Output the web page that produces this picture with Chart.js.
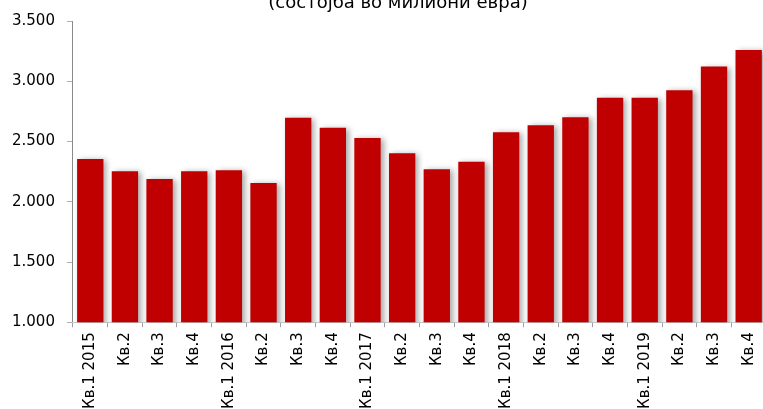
<!DOCTYPE html>
<html>
<head>
<meta charset="utf-8">
<script src="https://cdn.jsdelivr.net/npm/chart.js@4"></script>
<style>
  html, body { margin: 0; padding: 0; background: #fff; }
  #wrap { width: 763px; height: 409px; overflow: hidden; position: relative; }
</style>
</head>
<body>
<div id="wrap"><canvas id="myChart" width="772" height="414"></canvas></div>
<script>
const quarters = ['Кв.1 2015', 'Кв.2', 'Кв.3', 'Кв.4',
                  'Кв.1 2016', 'Кв.2', 'Кв.3', 'Кв.4',
                  'Кв.1 2017', 'Кв.2', 'Кв.3', 'Кв.4',
                  'Кв.1 2018', 'Кв.2', 'Кв.3', 'Кв.4',
                  'Кв.1 2019', 'Кв.2', 'Кв.3', 'Кв.4'];
const amounts = [2355, 2254, 2188, 2254, 2262, 2155, 2697, 2614, 2529, 2402,
                 2270, 2331, 2576, 2634, 2702, 2864, 2864, 2925, 3122, 3260];
const subtitle = '(состојба во милиони евра)';

// bars in the original have a soft grey drop shadow
const barShadow = {
    id: 'barShadow',
    beforeDatasetsDraw(chart) {
        const c = chart.ctx;
        c.save();
        c.shadowColor = 'rgba(0,0,0,0.35)';
        c.shadowBlur = 6;
        c.shadowOffsetX = 3;
        c.shadowOffsetY = 1;
    },
    afterDatasetsDraw(chart) {
        chart.ctx.restore();
    }
};

// title sits half off the top edge, so draw it by hand
const cutTitle = {
    id: 'cutTitle',
    afterDraw(chart) {
        const c = chart.ctx;
        c.save();
        c.font = '18px "DejaVu Sans"';
        c.fillStyle = '#000';
        c.textAlign = 'center';
        c.textBaseline = 'alphabetic';
        c.fillText(subtitle, 398, 8);
        c.restore();
    }
};

const ctx = document.getElementById('myChart').getContext('2d');
const myChart = new Chart(ctx, {
    type: 'bar',
    data: {
        labels: quarters,
        datasets: [{
            data: amounts,
            backgroundColor: '#C00000',
            barPercentage: 0.76,
            categoryPercentage: 1.0
        }]
    },
    options: {
        responsive: false,
        animation: false,
        layout: {
            padding: { top: 5, right: 6, left: 0, bottom: 0 }
        },
        plugins: {
            legend: { display: false },
            tooltip: { enabled: false },
            title: { display: false }
        },
        scales: {
            y: {
                min: 1000,
                max: 3500,
                ticks: {
                    stepSize: 500,
                    padding: 12,
                    color: '#000',
                    font: { family: 'DejaVu Sans', size: 15 },
                    callback: v => {
                        let s = String(v);
                        return s.slice(0, s.length - 3) + '.' + s.slice(-3);
                    }
                },
                grid: {
                    drawOnChartArea: false,
                    drawTicks: true,
                    tickLength: 6,
                    color: '#b0b0b0'
                },
                border: { display: true, color: '#8a8a8a', width: 1 }
            },
            x: {
                ticks: {
                    minRotation: 90,
                    maxRotation: 90,
                    autoSkip: false,
                    padding: 5,
                    color: '#000',
                    font: { family: 'DejaVu Sans', size: 15 }
                },
                grid: {
                    drawOnChartArea: false,
                    drawTicks: true,
                    tickLength: 5,
                    color: '#a0a0a0'
                },
                border: { display: true, color: '#c8c8c8', width: 1 }
            }
        }
    },
    plugins: [barShadow, cutTitle]
});
</script>
</body>
</html>
